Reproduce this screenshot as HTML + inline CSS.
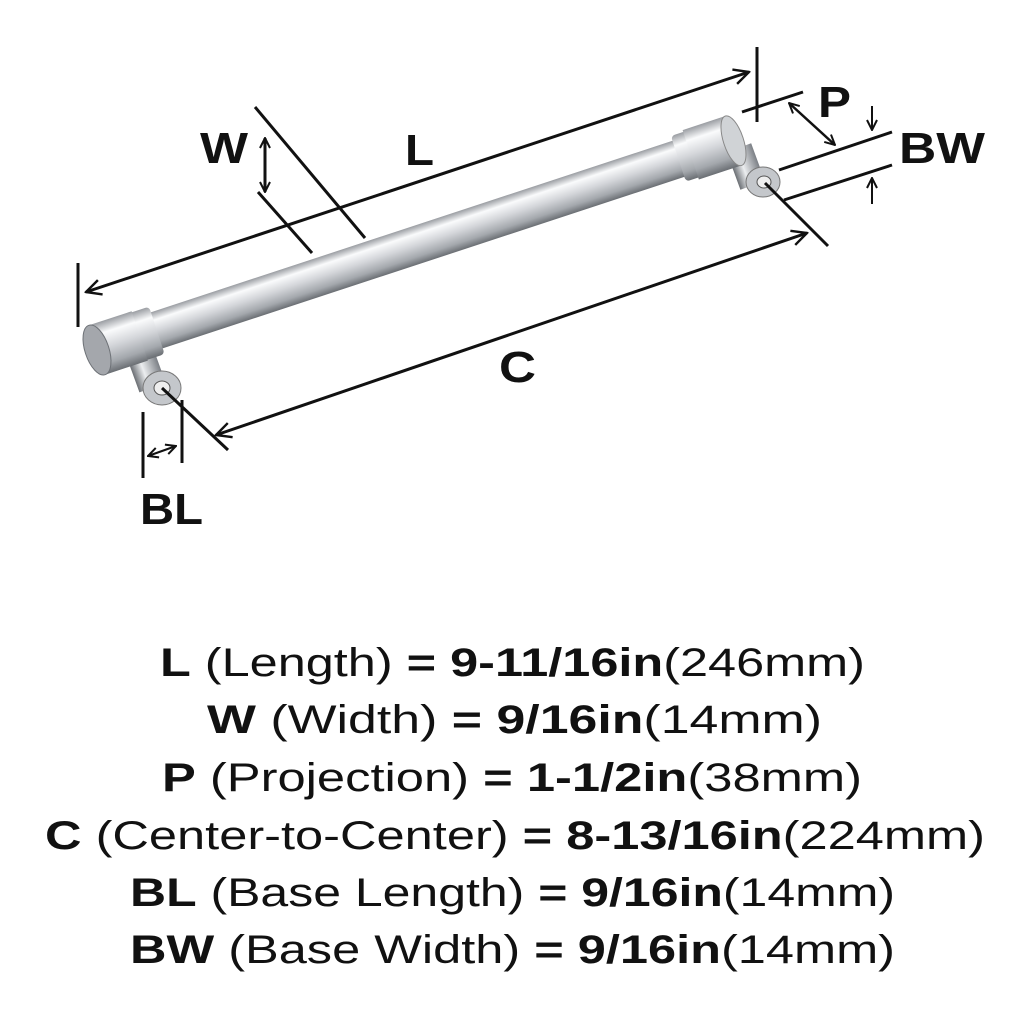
<!DOCTYPE html>
<html><head><style>
body{margin:0;background:#fff;width:1024px;height:1024px;overflow:hidden}
svg{display:block}
text{font-family:"Liberation Sans",sans-serif;fill:#111}
</style></head><body>
<svg width="1024" height="1024" viewBox="0 0 1024 1024">
<defs>
<linearGradient id="tube" x1="0" y1="0" x2="0" y2="1">
<stop offset="0" stop-color="#9a9da2"/><stop offset="0.22" stop-color="#fafbfc"/><stop offset="0.5" stop-color="#d4d6da"/><stop offset="0.8" stop-color="#a4a8ad"/><stop offset="1" stop-color="#6a6e73"/></linearGradient>
<linearGradient id="post" x1="0" y1="0" x2="1" y2="0">
<stop offset="0" stop-color="#6a6e73"/><stop offset="0.4" stop-color="#eceef0"/><stop offset="1" stop-color="#7b7f85"/></linearGradient>
<marker id="ar" viewBox="0 0 12 12" refX="11" refY="6" markerWidth="12" markerHeight="12" markerUnits="userSpaceOnUse" orient="auto-start-reverse">
<path d="M1,1 L11,6 L1,11" fill="none" stroke="#111" stroke-width="2"/></marker>
<marker id="ar2" viewBox="0 0 12 12" refX="11" refY="6" markerWidth="18" markerHeight="18" markerUnits="userSpaceOnUse" orient="auto-start-reverse">
<path d="M1,1 L11,6 L1,11" fill="none" stroke="#111" stroke-width="1.6"/></marker>
</defs>

<!-- posts -->
<g>
<rect x="-12" y="0" width="28" height="46" fill="url(#post)" transform="translate(135,345) rotate(-20)"/>
<ellipse cx="162" cy="388" rx="19" ry="17" fill="#c4c7cb" stroke="#777" stroke-width="1"/>
<ellipse cx="162" cy="388" rx="8" ry="7" fill="#eee" stroke="#555"/>
<rect x="-12" y="0" width="26" height="40" fill="url(#post)" transform="translate(738,148) rotate(-20)"/>
<ellipse cx="763" cy="182" rx="17" ry="15" fill="#c4c7cb" stroke="#777" stroke-width="1"/>
<ellipse cx="764" cy="182" rx="7" ry="6" fill="#eee" stroke="#555"/>
</g>
<!-- bar -->
<g transform="translate(97,350) rotate(-18.2)">
<rect x="40" y="-19" width="590" height="38" fill="url(#tube)"/>
<rect x="28" y="-25" width="35" height="50" rx="4" fill="url(#tube)"/>
<rect x="0" y="-26" width="45" height="52" fill="url(#tube)"/>
<ellipse cx="0" cy="0" rx="12" ry="26" fill="#a4a7ac" stroke="#6d7176"/>
<rect x="612" y="-24" width="30" height="48" rx="4" fill="url(#tube)"/>
<rect x="625" y="-26" width="45" height="52" fill="url(#tube)"/>
<ellipse cx="670" cy="0" rx="10" ry="26" fill="#d0d3d6" stroke="#888"/>
</g>

<g stroke="#111" stroke-width="3" fill="none">
<line x1="86" y1="292" x2="749" y2="72" marker-start="url(#ar2)" marker-end="url(#ar2)"/>
<line x1="78" y1="263" x2="78" y2="327"/>
<line x1="757" y1="47" x2="757" y2="122"/>
<line x1="255" y1="107" x2="365" y2="238"/>
<line x1="258" y1="192" x2="312" y2="253"/>
<line x1="265" y1="138" x2="265" y2="192" marker-start="url(#ar)" marker-end="url(#ar)"/>
<line x1="216" y1="435" x2="807" y2="233" marker-start="url(#ar2)" marker-end="url(#ar2)"/>
<line x1="162" y1="388" x2="228" y2="450"/>
<line x1="765" y1="183" x2="828" y2="246"/>
<line x1="143" y1="412" x2="143" y2="478"/>
<line x1="182" y1="400" x2="182" y2="463"/>
<line x1="148" y1="456" x2="176" y2="446" stroke-width="2" marker-start="url(#ar)" marker-end="url(#ar)"/>
<line x1="742" y1="112" x2="803" y2="92"/>
<line x1="789" y1="103" x2="835" y2="145" stroke-width="2.5" marker-start="url(#ar)" marker-end="url(#ar)"/>
<line x1="779" y1="170" x2="892" y2="132"/>
<line x1="784" y1="200" x2="892" y2="165"/>
<line x1="872" y1="106" x2="872" y2="130" stroke-width="2" marker-end="url(#ar)"/>
<line x1="872" y1="204" x2="872" y2="178" stroke-width="2" marker-end="url(#ar)"/>
</g>

<g font-weight="bold" font-size="44" lengthAdjust="spacingAndGlyphs">
<text x="200" y="163" textLength="48" lengthAdjust="spacingAndGlyphs">W</text>
<text x="405" y="165" textLength="29" lengthAdjust="spacingAndGlyphs">L</text>
<text x="818" y="117" textLength="33" lengthAdjust="spacingAndGlyphs">P</text>
<text x="899" y="163" textLength="86" lengthAdjust="spacingAndGlyphs">BW</text>
<text x="499" y="382" textLength="37" lengthAdjust="spacingAndGlyphs">C</text>
<text x="140" y="524" textLength="63" lengthAdjust="spacingAndGlyphs">BL</text>
</g>

<g font-size="40">
<text x="160" y="676" textLength="705" lengthAdjust="spacingAndGlyphs"><tspan font-weight="bold">L</tspan> (Length) <tspan font-weight="bold">= 9-11/16in</tspan>(246mm)</text>
<text x="207" y="733" textLength="615" lengthAdjust="spacingAndGlyphs"><tspan font-weight="bold">W</tspan> (Width) <tspan font-weight="bold">= 9/16in</tspan>(14mm)</text>
<text x="162" y="791" textLength="700" lengthAdjust="spacingAndGlyphs"><tspan font-weight="bold">P</tspan> (Projection) <tspan font-weight="bold">= 1-1/2in</tspan>(38mm)</text>
<text x="45" y="849" textLength="940" lengthAdjust="spacingAndGlyphs"><tspan font-weight="bold">C</tspan> (Center-to-Center) <tspan font-weight="bold">= 8-13/16in</tspan>(224mm)</text>
<text x="130" y="906" textLength="765" lengthAdjust="spacingAndGlyphs"><tspan font-weight="bold">BL</tspan> (Base Length) <tspan font-weight="bold">= 9/16in</tspan>(14mm)</text>
<text x="130" y="963" textLength="765" lengthAdjust="spacingAndGlyphs"><tspan font-weight="bold">BW</tspan> (Base Width) <tspan font-weight="bold">= 9/16in</tspan>(14mm)</text>
</g>
</svg>
</body></html>
